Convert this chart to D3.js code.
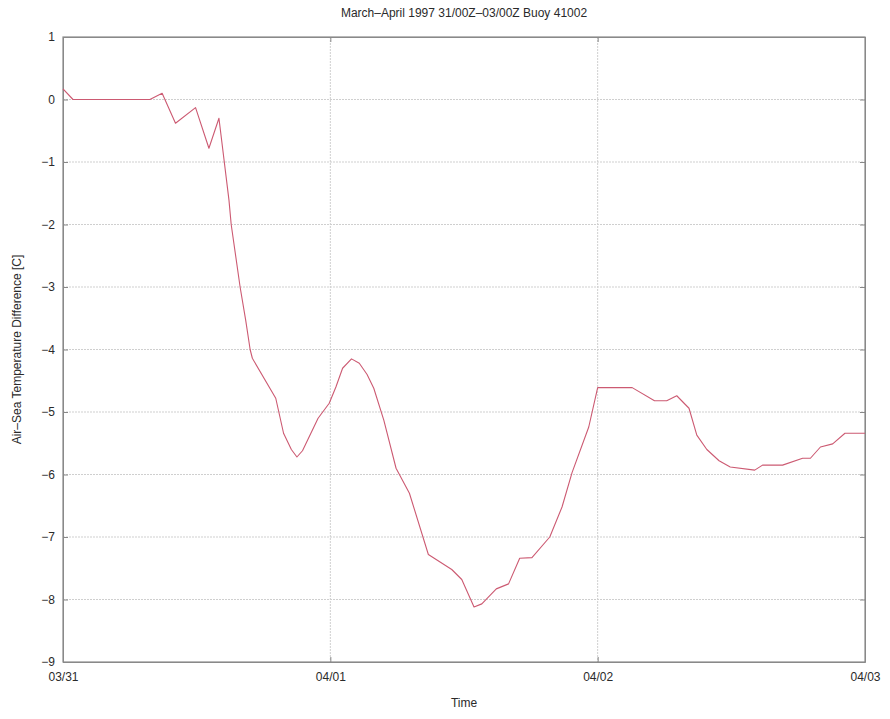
<!DOCTYPE html>
<html>
<head>
<meta charset="utf-8">
<script src="https://cdn.jsdelivr.net/npm/d3@7"></script>
<style>
  body { margin: 0; background: #fff; }
  text { font-family: "Liberation Sans", Arial, sans-serif; fill: #2a2a2a; }
</style>
</head>
<body>
<script>
var w = 890;
var h = 719;
var margin = {top: 37, right: 25, bottom: 57, left: 63};

// hours since 03/31 00Z, and air-sea temperature difference [C]
var hours = [0, 0.9, 7.8, 8.9, 10.1, 11.9, 13.1, 14.0, 14.9, 15.1, 15.9, 16.4, 16.8, 17.0,
             19.1, 19.8, 20.5, 21.0, 21.5, 22.9, 23.9, 24.5, 25.1, 25.9, 26.6, 27.3, 27.9,
             28.8, 29.9, 31.1, 32.8, 34.9, 35.8,
             36.9, 37.6, 38.9, 40.0, 41.0, 42.1, 43.7, 44.8, 45.7, 47.2, 48.0, 51.1, 53.1,
             54.2, 55.1, 56.2, 56.9, 57.8, 58.9, 59.9, 62.1, 62.8, 64.6, 66.4, 67.1, 68.0, 69.1,
             70.2, 72];
var diffs = [0.17, 0, 0, 0.1, -0.38, -0.13, -0.78, -0.3, -1.61, -2.0, -3.0, -3.53, -4.0, -4.14,
             -4.78, -5.34, -5.6, -5.72, -5.62, -5.1, -4.86, -4.6, -4.3, -4.15, -4.22, -4.4, -4.62,
             -5.13, -5.9, -6.3, -7.28, -7.52, -7.68,
             -8.12, -8.07, -7.83, -7.75, -7.34, -7.33, -7.0, -6.52, -5.97, -5.24, -4.61, -4.61, -4.82,
             -4.82, -4.74, -4.94, -5.37, -5.6, -5.78, -5.88, -5.93, -5.85, -5.85, -5.74, -5.74, -5.56, -5.51,
             -5.34, -5.34];

var xTicks = [0, 24, 48, 72];
var xTickLabels = ["03/31", "04/01", "04/02", "04/03"];
var yTicks = [1, 0, -1, -2, -3, -4, -5, -6, -7, -8, -9];

var titleText = "March\u2013April 1997 31/00Z\u201303/00Z Buoy 41002";
var xLabel = "Time";
var yLabel = "Air\u2013Sea Temperature Difference [C]";

var iw = w - margin.left - margin.right;
var ih = h - margin.top - margin.bottom;

var xScale = d3.scaleLinear().domain([0, 72]).range([0, iw]);
var yScale = d3.scaleLinear().domain([-9, 1]).range([ih, 0]);

var svg = d3.select("body").append("svg")
  .attr("width", w)
  .attr("height", h);

var g = svg.append("g")
  .attr("transform", "translate(" + margin.left + "," + margin.top + ")");

// grid
g.append("g").selectAll("line")
  .data(xTicks.slice(1, -1))
  .enter().append("line")
  .attr("x1", function(d) { return xScale(d); })
  .attr("x2", function(d) { return xScale(d); })
  .attr("y1", 0).attr("y2", ih)
  .attr("stroke", "#cfcfcf")
  .attr("stroke-dasharray", "2,1");

g.append("g").selectAll("line")
  .data(yTicks.slice(1, -1))
  .enter().append("line")
  .attr("x1", 0).attr("x2", iw)
  .attr("y1", function(d) { return yScale(d); })
  .attr("y2", function(d) { return yScale(d); })
  .attr("stroke", "#cfcfcf")
  .attr("stroke-dasharray", "2,1");

// axes (ticks pointing inward, like matlab)
var xAxis = d3.axisBottom(xScale)
  .tickValues(xTicks)
  .tickFormat(function(d, i) { return xTickLabels[i]; })
  .tickSizeInner(-5).tickSizeOuter(0).tickPadding(10);

var yAxis = d3.axisLeft(yScale)
  .tickValues(yTicks)
  .tickFormat(d3.format("d"))
  .tickSizeInner(-5).tickSizeOuter(0).tickPadding(8);

g.append("g").attr("transform", "translate(0," + ih + ")").call(xAxis);
g.append("g").call(yAxis);

g.append("g")
  .call(d3.axisTop(xScale).tickValues(xTicks).tickSizeInner(-5).tickSizeOuter(0).tickFormat(""));
g.append("g").attr("transform", "translate(" + iw + ",0)")
  .call(d3.axisRight(yScale).tickValues(yTicks).tickSizeInner(-5).tickSizeOuter(0).tickFormat(""));

g.selectAll(".domain").attr("stroke", "#888");
g.selectAll(".tick line").attr("stroke", "#888");
g.selectAll(".tick text").attr("font-size", 12).attr("fill", "#2a2a2a")
  .style("font-family", "'Liberation Sans', Arial, sans-serif");

// box
g.append("rect")
  .attr("width", iw).attr("height", ih)
  .attr("fill", "none")
  .attr("stroke", "#8a8a8a")
  .attr("stroke-width", 1.2);

// data line
var line = d3.line()
  .x(function(d, i) { return xScale(hours[i]); })
  .y(function(d) { return yScale(d); });

g.append("path")
  .datum(diffs)
  .attr("d", line)
  .attr("fill", "none")
  .attr("stroke", "#cc5a72")
  .attr("stroke-width", 1.1)
  .attr("stroke-linejoin", "round");

// labels
svg.append("text")
  .attr("x", margin.left + iw / 2)
  .attr("y", 17)
  .attr("text-anchor", "middle")
  .attr("font-size", 12)
  .text(titleText);

svg.append("text")
  .attr("x", margin.left + iw / 2)
  .attr("y", 707)
  .attr("text-anchor", "middle")
  .attr("font-size", 12)
  .text(xLabel);

svg.append("text")
  .attr("transform", "translate(21," + (margin.top + ih / 2) + ") rotate(-90)")
  .attr("text-anchor", "middle")
  .attr("font-size", 12)
  .text(yLabel);
</script>
</body>
</html>
